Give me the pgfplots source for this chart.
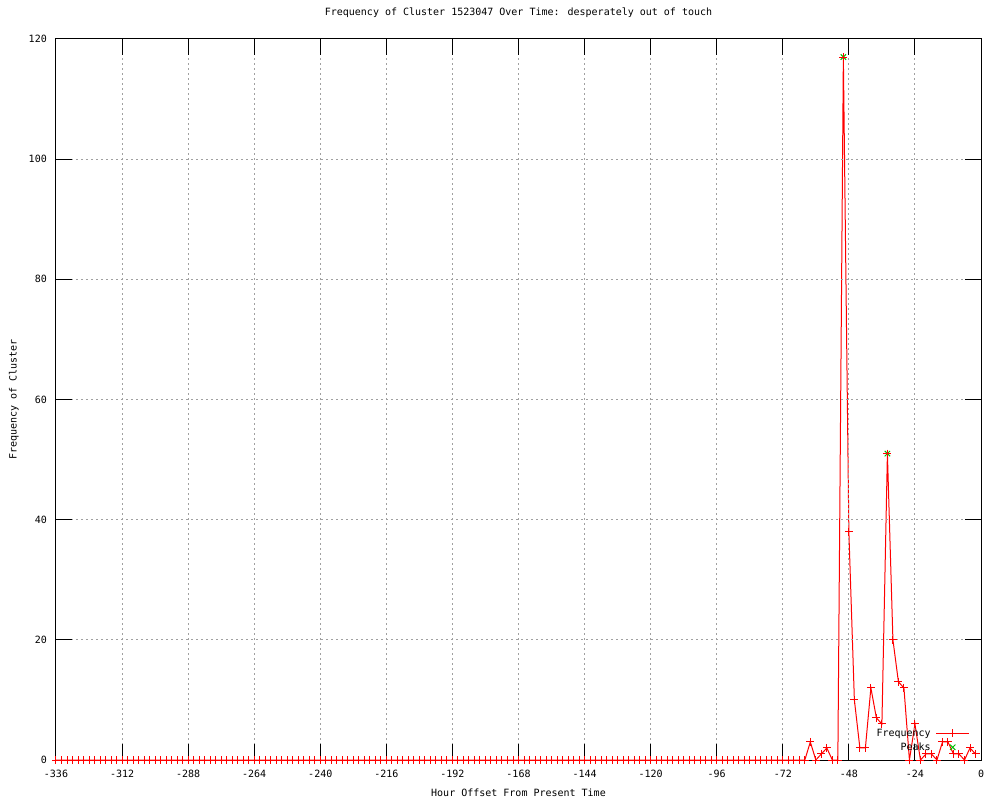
\documentclass[border=0pt]{standalone}
\usepackage{fontspec}
\setmainfont{DejaVu Sans Mono}
\usepackage{pgfplots}
\pgfplotsset{compat=1.18}
\definecolor{gpred}{RGB}{255,0,0}
\definecolor{gpgreen}{RGB}{0,192,0}
\definecolor{gpgrid}{RGB}{160,160,160}
\newcommand{\gpfont}{\fontsize{10}{12}\selectfont}
\begin{document}
\begin{tikzpicture}
\useasboundingbox (-56pt,-40pt) rectangle (944pt,760pt);
\begin{axis}[
  at={(0pt,0pt)}, anchor=south west,
  scale only axis, width=925pt, height=721pt,
  xmin=-336, xmax=0, ymin=0, ymax=120,
  xtick={-336,-312,-288,-264,-240,-216,-192,-168,-144,-120,-96,-72,-48,-24,0},
  ytick={0,20,40,60,80,100,120},
  grid=major,
  major grid style={gpgrid, dash pattern=on 2pt off 3pt, line width=1pt},
  major tick length=16pt,
  tick style={black, line width=1pt},
  axis line style={black, line width=1pt},
  axis on top, clip=false,
  /pgf/number format/assume math mode=true,
  tick label style={font=\gpfont},
  xticklabel style={anchor=base, inner sep=0pt, yshift=-17pt},
  yticklabel style={anchor=east, inner sep=0pt, xshift=-9pt},
  title={Frequency of Cluster 1523047 Over Time: desperately out of touch},
  title style={font=\gpfont, at={(axis description cs:0.5,1.0243)}, anchor=base, inner sep=0pt},
  xlabel={Hour Offset From Present Time},
  xlabel style={font=\gpfont, at={(axis description cs:0.5,-0.0506)}, anchor=base, inner sep=0pt},
  ylabel={Frequency of Cluster},
  ylabel style={font=\gpfont, at={(axis description cs:-0.0427,0.5)}, anchor=base, inner sep=0pt},
  legend style={draw=none, fill=none, font=\gpfont, at={(axis description cs:0.988,0.011)}, anchor=south east, inner sep=0pt, row sep=5pt, column sep=5pt, nodes={inner sep=0pt}},
  legend plot pos=right, legend cell align=right, reverse legend,
]
\addplot[gpgreen, only marks, mark=x, mark size=3.8pt, line width=1pt,
  legend image code/.code={\draw plot coordinates {(16.5pt,0pt)};}]
  coordinates {(-50,117) (-34,51)};
\addlegendentry{Peaks}
\addplot[gpred, line width=1pt, mark=+, mark size=4pt,
  legend image code/.code={\draw[mark repeat=2,mark phase=2] plot coordinates {(0pt,0pt) (16.5pt,0pt) (33pt,0pt)};}]
  coordinates {
(-336,0) (-334,0) (-332,0) (-330,0) (-328,0) (-326,0) (-324,0) (-322,0) (-320,0) (-318,0)
(-316,0) (-314,0) (-312,0) (-310,0) (-308,0) (-306,0) (-304,0) (-302,0) (-300,0) (-298,0)
(-296,0) (-294,0) (-292,0) (-290,0) (-288,0) (-286,0) (-284,0) (-282,0) (-280,0) (-278,0)
(-276,0) (-274,0) (-272,0) (-270,0) (-268,0) (-266,0) (-264,0) (-262,0) (-260,0) (-258,0)
(-256,0) (-254,0) (-252,0) (-250,0) (-248,0) (-246,0) (-244,0) (-242,0) (-240,0) (-238,0)
(-236,0) (-234,0) (-232,0) (-230,0) (-228,0) (-226,0) (-224,0) (-222,0) (-220,0) (-218,0)
(-216,0) (-214,0) (-212,0) (-210,0) (-208,0) (-206,0) (-204,0) (-202,0) (-200,0) (-198,0)
(-196,0) (-194,0) (-192,0) (-190,0) (-188,0) (-186,0) (-184,0) (-182,0) (-180,0) (-178,0)
(-176,0) (-174,0) (-172,0) (-170,0) (-168,0) (-166,0) (-164,0) (-162,0) (-160,0) (-158,0)
(-156,0) (-154,0) (-152,0) (-150,0) (-148,0) (-146,0) (-144,0) (-142,0) (-140,0) (-138,0)
(-136,0) (-134,0) (-132,0) (-130,0) (-128,0) (-126,0) (-124,0) (-122,0) (-120,0) (-118,0)
(-116,0) (-114,0) (-112,0) (-110,0) (-108,0) (-106,0) (-104,0) (-102,0) (-100,0) (-98,0)
(-96,0) (-94,0) (-92,0) (-90,0) (-88,0) (-86,0) (-84,0) (-82,0) (-80,0) (-78,0)
(-76,0) (-74,0) (-72,0) (-70,0) (-68,0) (-66,0) (-64,0)
(-62,3) (-60,0) (-58,1) (-56,2) (-54,0) (-52,0) (-50,117) (-48,38) (-46,10) (-44,2)
(-42,2) (-40,12) (-38,7) (-36,6) (-34,51) (-32,20) (-30,13) (-28,12) (-26,0) (-24,6)
(-22,0) (-20,1) (-18,1) (-16,0) (-14,3) (-12,3) (-10,1) (-8,1) (-6,0) (-4,2) (-2,1)
  };
\addlegendentry{Frequency}
\end{axis}
\end{tikzpicture}
\end{document}
